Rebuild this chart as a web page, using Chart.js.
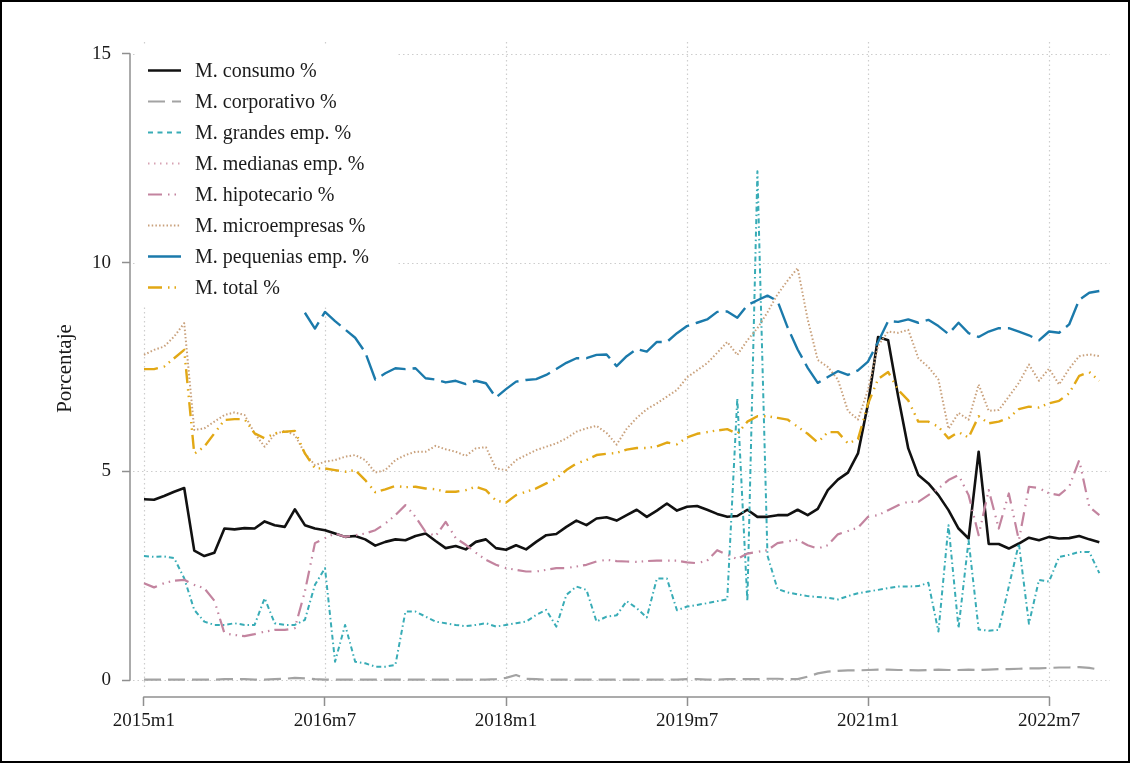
<!DOCTYPE html>
<html lang="es">
<head>
<meta charset="utf-8">
<title>Morosidad por tipo de crédito</title>
<script src="https://cdn.jsdelivr.net/npm/chart.js@4.4.1/dist/chart.umd.min.js"></script>
<style>
  html, body { margin: 0; padding: 0; background: #ffffff; }
  canvas { display: block; }
</style>
</head>
<body>
<canvas id="chart" width="1130" height="763"></canvas>
<script>
// Monthly periods 2015m1 .. 2022m12
const months = [];
for (let yr = 2015; yr <= 2022; yr++) {
  for (let m = 1; m <= 12; m++) months.push(yr + 'm' + m);
}

// Labelled periods on the time axis
const xTickLabels = ['2015m1', '2016m7', '2018m1', '2019m7', '2021m1', '2022m7'];
// Labelled values on the percentage axis
const yTickValues = [0, 5, 10, 15];

// Delinquency ratios (%) by credit type
const consumo = [
  4.33, 4.32, 4.41, 4.51, 4.60, 3.10, 2.97, 3.05, 3.63, 3.61,
  3.64, 3.63, 3.80, 3.71, 3.67, 4.09, 3.71, 3.63, 3.59, 3.51,
  3.43, 3.45, 3.37, 3.22, 3.31, 3.37, 3.35, 3.45, 3.51, 3.33,
  3.16, 3.21, 3.13, 3.31, 3.37, 3.16, 3.12, 3.23, 3.13, 3.31,
  3.47, 3.50, 3.67, 3.82, 3.71, 3.87, 3.90, 3.82, 3.95, 4.08,
  3.91, 4.06, 4.23, 4.06, 4.15, 4.17, 4.08, 3.98, 3.91, 3.93,
  4.08, 3.91, 3.91, 3.95, 3.95, 4.08, 3.95, 4.10, 4.55, 4.80,
  4.97, 5.43, 6.62, 8.22, 8.14, 6.79, 5.55, 4.91, 4.71, 4.43,
  4.07, 3.63, 3.39, 5.47, 3.26, 3.26, 3.15, 3.27, 3.41, 3.35,
  3.43, 3.39, 3.40, 3.45, 3.37, 3.30
];

const corporativo = [
  0.01, 0.01, 0.01, 0.01, 0.01, 0.01, 0.01, 0.01, 0.02, 0.02,
  0.02, 0.01, 0.01, 0.02, 0.03, 0.05, 0.04, 0.02, 0.01, 0.01,
  0.01, 0.01, 0.01, 0.01, 0.01, 0.01, 0.01, 0.01, 0.01, 0.01,
  0.01, 0.01, 0.01, 0.01, 0.01, 0.02, 0.05, 0.12, 0.03, 0.02,
  0.01, 0.01, 0.01, 0.01, 0.01, 0.01, 0.01, 0.01, 0.01, 0.01,
  0.01, 0.01, 0.01, 0.01, 0.02, 0.02, 0.01, 0.01, 0.02, 0.02,
  0.02, 0.02, 0.03, 0.03, 0.02, 0.02, 0.08, 0.16, 0.20, 0.22,
  0.23, 0.23, 0.24, 0.25, 0.25, 0.24, 0.24, 0.23, 0.24, 0.25,
  0.24, 0.24, 0.25, 0.24, 0.25, 0.26, 0.26, 0.27, 0.28, 0.28,
  0.29, 0.30, 0.30, 0.31, 0.29, 0.25
];

const grandesEmp = [
  2.97, 2.95, 2.96, 2.92, 2.44, 1.68, 1.40, 1.32, 1.32, 1.36,
  1.32, 1.32, 1.96, 1.36, 1.32, 1.32, 1.44, 2.28, 2.68, 0.44,
  1.32, 0.44, 0.40, 0.32, 0.32, 0.36, 1.64, 1.64, 1.52, 1.40,
  1.36, 1.32, 1.29, 1.32, 1.36, 1.28, 1.32, 1.36, 1.40, 1.56,
  1.68, 1.28, 2.04, 2.24, 2.16, 1.40, 1.52, 1.55, 1.89, 1.72,
  1.50, 2.43, 2.43, 1.67, 1.76, 1.80, 1.84, 1.89, 1.93, 6.75,
  1.89, 12.19, 2.98, 2.18, 2.10, 2.05, 2.01, 1.99, 1.97, 1.93,
  2.01, 2.08, 2.12, 2.16, 2.20, 2.24, 2.24, 2.25, 2.33, 1.16,
  3.71, 1.24, 3.35, 1.21, 1.18, 1.20, 2.24, 3.27, 1.35, 2.40,
  2.36, 2.95, 3.00, 3.07, 3.07, 2.56
];

// No observations for medium-sized firms in this sample
const medianasEmp = [];

const hipotecario = [
  2.32, 2.22, 2.32, 2.38, 2.40, 2.28, 2.20, 1.90, 1.12, 1.08,
  1.05, 1.10, 1.16, 1.20, 1.20, 1.24, 2.12, 3.28, 3.40, 3.51,
  3.43, 3.47, 3.51, 3.59, 3.75, 3.95, 4.19, 3.91, 3.55, 3.45,
  3.79, 3.40, 3.24, 3.05, 2.88, 2.76, 2.68, 2.64, 2.60, 2.60,
  2.64, 2.68, 2.68, 2.72, 2.76, 2.84, 2.88, 2.85, 2.84, 2.83,
  2.85, 2.86, 2.86, 2.86, 2.82, 2.80, 2.86, 3.11, 3.00, 2.90,
  3.03, 3.07, 3.11, 3.28, 3.32, 3.36, 3.23, 3.15, 3.23, 3.49,
  3.57, 3.65, 3.91, 3.95, 4.07, 4.19, 4.27, 4.27, 4.43, 4.59,
  4.79, 4.91, 4.43, 3.47, 4.55, 3.63, 4.47, 3.35, 4.63, 4.60,
  4.47, 4.43, 4.63, 5.27, 4.15, 3.95
];

const microempresas = [
  7.79, 7.91, 7.99, 8.23, 8.55, 5.99, 6.03, 6.19, 6.35, 6.41,
  6.35, 5.91, 5.59, 5.89, 5.97, 5.87, 5.43, 5.15, 5.23, 5.27,
  5.35, 5.39, 5.27, 4.97, 5.03, 5.27, 5.39, 5.47, 5.47, 5.61,
  5.53, 5.47, 5.37, 5.55, 5.58, 5.07, 5.03, 5.27, 5.39, 5.51,
  5.59, 5.67, 5.79, 5.95, 6.03, 6.09, 5.92, 5.64, 6.02, 6.28,
  6.49, 6.63, 6.79, 6.95, 7.25, 7.42, 7.59, 7.84, 8.10, 7.79,
  8.14, 8.43, 8.81, 9.24, 9.57, 9.87, 8.64, 7.67, 7.50, 7.20,
  6.45, 6.24, 6.95, 8.01, 8.35, 8.32, 8.39, 7.71, 7.50, 7.20,
  6.02, 6.40, 6.24, 7.08, 6.45, 6.47, 6.79, 7.12, 7.56, 7.17,
  7.46, 7.08, 7.46, 7.76, 7.80, 7.76
];

const pequeniasEmp = [
  null, null, null, null, null, null, null, null, null, null,
  null, null, null, null, null, null, 8.80, 8.42, 8.82, 8.60,
  8.40, 8.20, 7.85, 7.20, 7.35, 7.47, 7.45, 7.47, 7.23, 7.20,
  7.13, 7.17, 7.09, 7.17, 7.11, 6.77, 6.97, 7.15, 7.19, 7.21,
  7.31, 7.45, 7.60, 7.71, 7.71, 7.79, 7.80, 7.52, 7.76, 7.93,
  7.87, 8.10, 8.10, 8.31, 8.48, 8.56, 8.64, 8.82, 8.83, 8.68,
  8.98, 9.10, 9.21, 9.08, 8.45, 7.92, 7.48, 7.12, 7.26, 7.40,
  7.31, 7.42, 7.63, 8.10, 8.60, 8.58, 8.64, 8.56, 8.63, 8.48,
  8.29, 8.56, 8.31, 8.22, 8.35, 8.43, 8.43, 8.35, 8.26, 8.14,
  8.35, 8.32, 8.52, 9.11, 9.28, 9.32
];

const total = [
  7.45, 7.45, 7.51, 7.71, 7.91, 5.42, 5.59, 5.91, 6.23, 6.25,
  6.25, 5.91, 5.79, 5.91, 5.95, 5.97, 5.43, 5.07, 5.07, 5.03,
  4.99, 5.03, 4.79, 4.50, 4.57, 4.65, 4.62, 4.63, 4.59, 4.57,
  4.51, 4.51, 4.55, 4.63, 4.55, 4.30, 4.25, 4.43, 4.51, 4.59,
  4.71, 4.83, 5.03, 5.19, 5.27, 5.39, 5.42, 5.44, 5.52, 5.56,
  5.56, 5.60, 5.69, 5.65, 5.81, 5.90, 5.94, 5.98, 6.01, 5.90,
  6.19, 6.32, 6.32, 6.28, 6.24, 6.07, 5.90, 5.69, 5.94, 5.94,
  5.67, 5.77, 6.62, 7.21, 7.38, 6.95, 6.70, 6.19, 6.19, 6.07,
  5.79, 5.94, 5.81, 6.32, 6.15, 6.19, 6.28, 6.49, 6.55, 6.53,
  6.63, 6.69, 6.87, 7.29, 7.38, 7.17
];

const seriesNames = [
  'M. consumo %', 'M. corporativo %', 'M. grandes emp. %', 'M. medianas emp. %',
  'M. hipotecario %', 'M. microempresas %', 'M. pequenias emp. %', 'M. total %'
];

const SERIF = '"Liberation Serif", "Times New Roman", serif';
const TEXT = '#1a1a1a';
const AXIS = '#8f8f8f';
const GRID = '#cdcdcd';

const xTickIdx = xTickLabels.map(l => months.indexOf(l));

const styles = [
  { color: '#111111', width: 2.6, dash: [] },
  { color: '#a3a3a3', width: 2.2, dash: [17, 7] },
  { color: '#38acb6', width: 2.0, dash: [5, 3, 1.5, 3], legendDash: [5, 4.5] },
  { color: '#d7a3b4', width: 2.0, dash: [1.5, 4.5] },
  { color: '#c3849f', width: 2.2, dash: [14, 6, 1.5, 5, 1.5, 5] },
  { color: '#c9a17c', width: 2.0, dash: [1.5, 2.2] },
  { color: '#1b7aab', width: 2.4, dash: [26, 7], legendDash: [] },
  { color: '#e2a815', width: 2.4, dash: [14, 6, 1.5, 5, 1.5, 5] }
];
const seriesData = [consumo, corporativo, grandesEmp, medianasEmp, hipotecario, microempresas, pequeniasEmp, total];

const datasets = seriesData.map((arr, k) => ({
  label: seriesNames[k],
  data: arr,
  borderColor: styles[k].color,
  backgroundColor: styles[k].color,
  borderWidth: styles[k].width,
  borderDash: styles[k].dash,
  legendDash: styles[k].legendDash,
  borderJoinStyle: 'round',
  pointRadius: 0,
  pointHoverRadius: 0,
  tension: 0,
  fill: false,
  spanGaps: false,
  order: -k
}));

// Dotted grid, detached axis lines, outer frame and in-plot legend
const decor = {
  id: 'decor',
  beforeDatasetsDraw(chart) {
    const { ctx, scales: { x, y } } = chart;
    ctx.save();
    ctx.strokeStyle = GRID;
    ctx.lineWidth = 1.2;
    ctx.setLineDash([1.5, 3]);
    yTickValues.forEach(v => {
      const py = Math.round(y.getPixelForValue(v)) + 0.5;
      ctx.beginPath(); ctx.moveTo(133, py); ctx.lineTo(chart.chartArea.right - 2, py); ctx.stroke();
    });
    xTickIdx.forEach(i => {
      const px = Math.round(x.getPixelForValue(i)) + 0.5;
      ctx.beginPath(); ctx.moveTo(px, chart.chartArea.top + 2); ctx.lineTo(px, chart.chartArea.bottom - 7); ctx.stroke();
    });
    ctx.restore();
  },
  afterDatasetsDraw(chart) {
    const ctx = chart.ctx;
    ctx.save();
    ctx.fillStyle = '#ffffff';
    ctx.fillRect(136, 46, 262, 260);
    chart.data.datasets.forEach((ds, k) => {
      const cy = 70.5 + k * 31;
      ctx.strokeStyle = ds.borderColor;
      ctx.lineWidth = ds.borderWidth;
      ctx.setLineDash(ds.legendDash || ds.borderDash || []);
      ctx.beginPath(); ctx.moveTo(148, cy); ctx.lineTo(181, cy); ctx.stroke();
      ctx.setLineDash([]);
      ctx.fillStyle = TEXT;
      ctx.font = '20px ' + SERIF;
      ctx.textBaseline = 'middle';
      ctx.textAlign = 'left';
      ctx.fillText(ds.label, 195, cy + 1);
    });
    ctx.restore();
  },
  afterDraw(chart) {
    const { ctx, scales: { x, y }, chartArea } = chart;
    ctx.save();
    ctx.strokeStyle = AXIS;
    ctx.lineWidth = 1.5;
    // vertical axis spans the labelled range only
    ctx.beginPath();
    ctx.moveTo(chartArea.left, y.getPixelForValue(yTickValues[0]) + 0.75);
    ctx.lineTo(chartArea.left, y.getPixelForValue(yTickValues[yTickValues.length - 1]) - 0.75);
    ctx.stroke();
    // horizontal axis spans the labelled periods only
    ctx.beginPath();
    ctx.moveTo(x.getPixelForValue(xTickIdx[0]) - 0.75, chartArea.bottom);
    ctx.lineTo(x.getPixelForValue(xTickIdx[xTickIdx.length - 1]) + 0.75, chartArea.bottom);
    ctx.stroke();
    // outer frame
    ctx.strokeStyle = '#000000';
    ctx.lineWidth = 2;
    ctx.strokeRect(1, 1, chart.width - 2, chart.height - 2);
    ctx.restore();
  }
};

new Chart(document.getElementById('chart'), {
  type: 'line',
  data: { labels: months.map((_, i) => i), datasets },
  plugins: [decor],
  options: {
    responsive: false,
    animation: false,
    events: [],
    layout: { padding: { top: 40, right: 18, left: 0, bottom: 0 } },
    plugins: { legend: { display: false }, tooltip: { enabled: false } },
    scales: {
      x: {
        type: 'linear',
        min: -1.39,
        max: 96.26,
        afterBuildTicks: s => { s.ticks = xTickIdx.map(v => ({ value: v })); },
        afterFit: s => { s.height = 66; },
        border: { display: false },
        grid: { display: true, drawOnChartArea: false, drawTicks: true, tickLength: 9, tickColor: AXIS, tickWidth: 1.5 },
        ticks: {
          autoSkip: false, maxRotation: 0, padding: 4, color: TEXT,
          font: { family: SERIF, size: 19 },
          callback: v => months[v]
        }
      },
      y: {
        type: 'linear',
        min: -0.407,
        max: 15.335,
        afterBuildTicks: s => { s.ticks = yTickValues.map(v => ({ value: v })); },
        afterFit: s => { s.width = 130; },
        border: { display: false },
        grid: { display: true, drawOnChartArea: false, drawTicks: true, tickLength: 8, tickColor: AXIS, tickWidth: 1.5 },
        ticks: {
          padding: 11, color: TEXT,
          font: { family: SERIF, size: 19 },
          callback: v => String(v)
        },
        title: {
          display: true, text: 'Porcentaje', color: TEXT,
          font: { family: SERIF, size: 21 },
          padding: { top: 53, bottom: 0 }
        }
      }
    }
  }
});
</script>
</body>
</html>
